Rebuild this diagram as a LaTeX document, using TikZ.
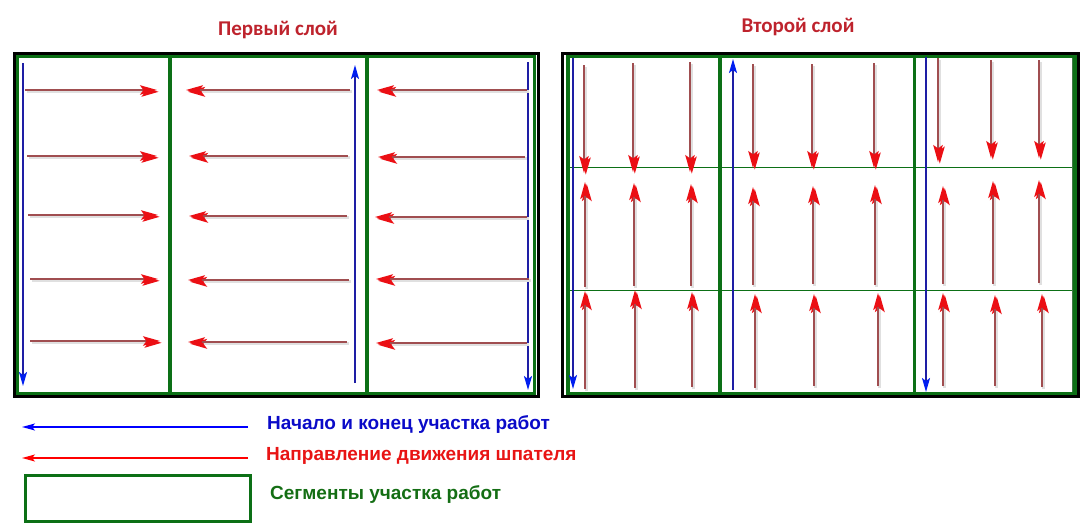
\documentclass[tikz,border=0pt]{standalone}
\usepackage{fontspec}
\setmainfont{Liberation Sans}
\newfontfamily\titlefont{Carlito}
\usetikzlibrary{arrows.meta}
\definecolor{shaft}{RGB}{160,78,80}
\definecolor{tipred}{RGB}{235,15,20}
\definecolor{dgreen}{RGB}{12,112,22}
\definecolor{bshaft}{RGB}{30,30,165}
\definecolor{btip}{RGB}{0,30,240}
\definecolor{ttl}{RGB}{190,35,45}
\definecolor{lgblue}{RGB}{10,10,200}
\definecolor{lgred}{RGB}{232,20,20}
\definecolor{lggreen}{RGB}{20,110,20}
\begin{document}
\begin{tikzpicture}[x=1pt,y=-1pt,
  redarr/.style={draw=shaft, line width=1.8pt,
    -{Stealth[length=17pt,width=9.5pt,inset=3.5pt,color=tipred]},
    preaction={draw=black!12, line width=3pt, transform canvas={shift={(1.8pt,-1.8pt)}}}},
  bluearr/.style={draw=bshaft, line width=1.6pt,
    -{Stealth[length=14pt,width=8pt,inset=3pt,color=btip]}},
  frame/.style={draw=black, line width=3pt},
  seg/.style={draw=dgreen, line width=3.2pt},
  thinseg/.style={draw=dgreen, line width=1pt},
  ttltext/.style={font=\titlefont\bfseries\fontsize{21}{24}\selectfont, text=ttl, inner sep=0pt},
  lgtext/.style={font=\bfseries\fontsize{19}{22}\selectfont, inner sep=0pt, anchor=west}
]
\useasboundingbox (0,0) rectangle (1085,530);

% titles
\node[ttltext] (t1) at (278,30) {Первый слой};
\node[ttltext] (t2) at (798,27) {Второй слой};

% ---------- left panel ----------
\draw[frame] (14.5,53.5) rectangle (538.5,396.5);
\draw[seg] (17.5,56.5) rectangle (534.5,393.5);
\coordinate (L1t) at (170,56.5); \coordinate (L1b) at (170,393.5);
\coordinate (L2t) at (367,56.5); \coordinate (L2b) at (367,393.5);
\draw[seg] (L1t) -- (L1b);
\draw[seg] (L2t) -- (L2b);

% blue lines left panel
\coordinate (bL1s) at (23,63);  \coordinate (bL1e) at (23,386);
\coordinate (bL2s) at (355,383); \coordinate (bL2e) at (355,65);
\coordinate (bL3s) at (528,62); \coordinate (bL3e) at (528,390);
\draw[bluearr] (bL1s) -- (bL1e);
\draw[bluearr] (bL2s) -- (bL2e);
\draw[bluearr] (bL3s) -- (bL3e);

% red arrows left panel
\foreach \y/\a/\b [count=\i] in {90/25/157, 156/27/157, 215/28/158, 279/30/158, 341/30/160}{
  \coordinate (ra\i) at (\a,\y); \coordinate (rb\i) at (\b,\y);
  \draw[redarr] (ra\i) -- (rb\i);
}
\foreach \y/\a/\b [count=\i] in {90/350/186, 156/348/189, 216/347/189, 280/349/188, 342/347/188}{
  \coordinate (rc\i) at (\a,\y); \coordinate (rd\i) at (\b,\y);
  \draw[redarr] (rc\i) -- (rd\i);
}
\foreach \y/\a/\b [count=\i] in {90/527/377, 157/525/378, 217/527/375, 279/529/376, 343/527/376}{
  \coordinate (re\i) at (\a,\y); \coordinate (rf\i) at (\b,\y);
  \draw[redarr] (re\i) -- (rf\i);
}

% ---------- right panel ----------
\draw[frame] (562,53.5) rectangle (1078.5,396.5);
\coordinate (G1) at (569,167); \coordinate (G2) at (1072,167);
\coordinate (G3) at (569,290); \coordinate (G4) at (1072,290);
\draw[thinseg] (G1) -- (G2);
\draw[thinseg] (G3) -- (G4);
\coordinate (Ga) at (1072,56.5); \coordinate (Gb) at (1072,393.5);
\draw[draw=dgreen!55!gray, line width=0.8pt] (Ga) -- (Gb);
\draw[seg] (568,56.5) rectangle (1075,393.5);
\coordinate (R1t) at (720,56.5); \coordinate (R1b) at (720,393.5);
\coordinate (R2t) at (914.5,56.5); \coordinate (R2b) at (914.5,393.5);
\draw[seg] (R1t) -- (R1b);
\draw[seg] (R2t) -- (R2b);

% blue lines right panel
\coordinate (bR1s) at (573,58);  \coordinate (bR1e) at (573,389);
\coordinate (bR2s) at (733,390); \coordinate (bR2e) at (733,59);
\coordinate (bR3s) at (926,57);  \coordinate (bR3e) at (926,392);
\draw[bluearr] (bR1s) -- (bR1e);
\draw[bluearr] (bR2s) -- (bR2e);
\draw[bluearr] (bR3s) -- (bR3e);

% red arrows right panel: row 1 (down)
\foreach \x/\a/\b [count=\i] in {584/65/173, 633/63/172, 690/62/172, 753/64/168, 812/64/168, 874/63/168, 938/58/162, 991/60/158, 1039/60/158}{
  \coordinate (da\i) at (\x,\a); \coordinate (db\i) at (\x,\b);
  \draw[redarr] (da\i) -- (db\i);
}
% row 2 (up)
\foreach \x/\a/\b [count=\i] in {585/287/182, 634/286/183, 691/286/184, 753/285/187, 813/284/186, 875/285/185, 943/284/186, 993/284/181, 1039/283/180}{
  \coordinate (ua\i) at (\x,\a); \coordinate (ub\i) at (\x,\b);
  \draw[redarr] (ua\i) -- (ub\i);
}
% row 3 (up)
\foreach \x/\a/\b [count=\i] in {585/389/291, 635/388/290, 692/387/292, 755/388/294, 814/386/294, 878/386/293, 943/386/293, 995/386/295, 1042/387/294}{
  \coordinate (va\i) at (\x,\a); \coordinate (vb\i) at (\x,\b);
  \draw[redarr] (va\i) -- (vb\i);
}

% ---------- legend ----------
\coordinate (lb1) at (248,427); \coordinate (lb2) at (22,427);
\draw[draw=blue, line width=1.4pt, -{Stealth[length=13pt,width=7pt,inset=3pt]}] (lb1) -- (lb2);
\coordinate (lr1) at (248,458); \coordinate (lr2) at (22,458);
\draw[draw=red, line width=1.6pt, -{Stealth[length=13pt,width=7pt,inset=3pt]}] (lr1) -- (lr2);
\node[draw=dgreen, line width=3pt, minimum width=225pt, minimum height=46pt, inner sep=0pt, anchor=north west] (lg) at (23.5,473.5) {};

\node[lgtext, text=lgblue] (tx1) at (267,424) {Начало и конец участка работ};
\node[lgtext, text=lgred] (tx2) at (266,456) {Направление движения шпателя};
\node[lgtext, text=lggreen] (tx3) at (270,494) {Сегменты участка работ};
\end{tikzpicture}
\end{document}
